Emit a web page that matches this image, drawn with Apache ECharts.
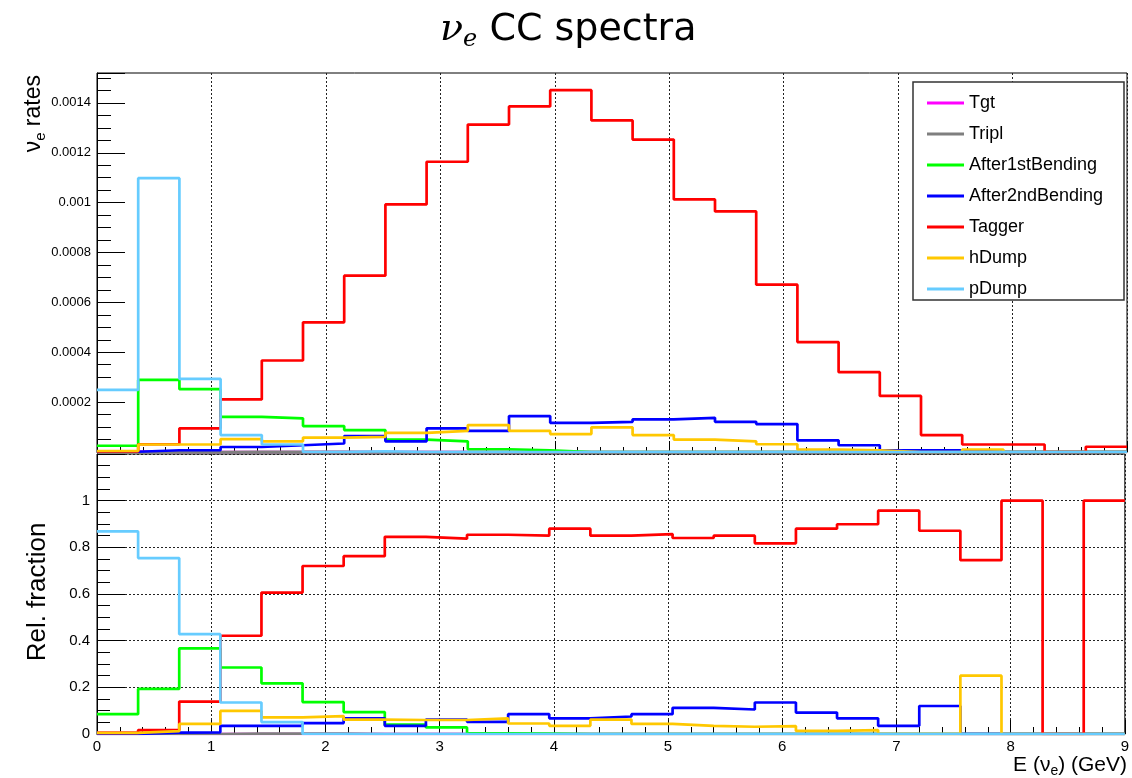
<!DOCTYPE html>
<html>
<head>
<meta charset="utf-8">
<title>nu_e CC spectra</title>
<script src="https://cdn.jsdelivr.net/npm/echarts@6/dist/echarts.min.js"></script>
<style>
  html, body { margin: 0; padding: 0; background: #fff; }
  #chart { width: 1132px; height: 778px; }
</style>
</head>
<body>
<div id="chart"></div>
<script>
// bin edges in GeV (25 bins of 0.36)
const edges = [0, 0.36, 0.72, 1.08, 1.44, 1.8, 2.16, 2.52, 2.88, 3.24, 3.6, 3.96, 4.32,
  4.68, 5.04, 5.4, 5.76, 6.12, 6.48, 6.84, 7.2, 7.56, 7.92, 8.28, 8.64, 9.0]

const names = ['Tgt', 'Tripl', 'After1stBending', 'After2ndBending', 'Tagger', 'hDump', 'pDump']
const colors = ['#ff00ff', '#7f7f7f', '#00ff00', '#0000ff', '#ff0000', '#ffc800', '#66ccff']

// top pad: nu_e rates per bin
const tgtRate = [2e-6, 0, 0, 0, 0, 0, 0, 0, 0, 0, 0, 0, 0, 0, 0, 0, 0, 0, 0, 0, 0, 0, 0, 0, 0]
const triplRate = [0, 0, 0, 1e-6, 1e-6, 1e-6, 0, 0, 0, 0, 0, 0, 0, 0, 0, 0, 0, 0, 0, 0, 0, 0, 0, 0, 0]
const bend1Rate = [2.5e-5, 2.89e-4, 2.52e-4, 1.41e-4, 1.35e-4, 1.04e-4, 8.8e-5, 5.0e-5, 4.3e-5, 1.1e-5,
  7e-6, 0, 0, 0, 0, 0, 0, 0, 0, 0, 0, 0, 0, 0, 0]
const bend2Rate = [1e-6, 7e-6, 7e-6, 2.0e-5, 2.7e-5, 3.4e-5, 6.4e-5, 4.3e-5, 9.5e-5, 8.5e-5,
  1.44e-4, 1.17e-4, 1.21e-4, 1.31e-4, 1.37e-4, 1.21e-4, 1.12e-4, 4.7e-5, 2.7e-5, 7e-6,
  7e-6, 0, 0, 0, 0]
const taggerRate = [2e-6, 3.1e-5, 9.5e-5, 2.11e-4, 3.67e-4, 5.2e-4, 7.07e-4, 9.93e-4, 1.164e-3, 1.313e-3,
  1.386e-3, 1.451e-3, 1.33e-3, 1.253e-3, 1.013e-3, 9.65e-4, 6.71e-4, 4.41e-4, 3.2e-4, 2.25e-4,
  6.8e-5, 3.0e-5, 3.0e-5, 0, 2.1e-5]
const hDumpRate = [4e-6, 3.0e-5, 3.0e-5, 5.2e-5, 4.3e-5, 5.8e-5, 6.1e-5, 7.7e-5, 8.5e-5, 1.08e-4,
  8.5e-5, 7.2e-5, 9.9e-5, 6.8e-5, 5.0e-5, 4.3e-5, 3.1e-5, 1.0e-5, 7e-6, 0,
  0, 1.0e-5, 0, 0, 0]
const pDumpRate = [2.49e-4, 1.098e-3, 2.93e-4, 6.8e-5, 3.0e-5, 0, 3e-6, 0, 0, 0, 0, 0, 0, 0, 0, 0,
  0, 0, 0, 0, 0, 0, 0, 0, 0]

// bottom pad: relative fraction per bin
const tgtFrac = [0.005, 0, 0, 0, 0, 0, 0, 0, 0, 0, 0, 0, 0, 0, 0, 0, 0, 0, 0, 0, 0, 0, 0, 0, 0]
const triplFrac = [0, 0, 0, 0.002, 0.002, 0.002, 0, 0, 0, 0, 0, 0, 0, 0, 0, 0, 0, 0, 0, 0, 0, 0, 0, 0, 0]
const bend1Frac = [0.085, 0.193, 0.367, 0.285, 0.217, 0.137, 0.094, 0.04, 0.028, 0.003,
  0.002, 0, 0, 0, 0, 0, 0, 0, 0, 0, 0, 0, 0, 0, 0]
const bend2Frac = [0, 0.006, 0.007, 0.035, 0.035, 0.047, 0.067, 0.035, 0.062, 0.052,
  0.085, 0.067, 0.075, 0.085, 0.112, 0.105, 0.135, 0.092, 0.067, 0.035,
  0.12, 0, 0, 0, 0]
const taggerFrac = [0.005, 0.017, 0.139, 0.421, 0.606, 0.72, 0.762, 0.845, 0.837, 0.854,
  0.85, 0.88, 0.85, 0.857, 0.84, 0.85, 0.817, 0.88, 0.899, 0.957,
  0.871, 0.745, 1.0, 0, 1.0]
const hDumpFrac = [0.005, 0.012, 0.043, 0.099, 0.071, 0.077, 0.062, 0.06, 0.06, 0.067,
  0.045, 0.035, 0.062, 0.043, 0.035, 0.031, 0.034, 0.013, 0.017, 0,
  0, 0.25, 0, 0, 0]
const pDumpFrac = [0.868, 0.754, 0.428, 0.135, 0.051, 0, 0, 0, 0, 0, 0, 0, 0, 0, 0, 0,
  0, 0, 0, 0, 0, 0, 0, 0, 0]

const rates = [tgtRate, triplRate, bend1Rate, bend2Rate, taggerRate, hDumpRate, pDumpRate]
const fracs = [tgtFrac, triplFrac, bend1Frac, bend2Frac, taggerFrac, hDumpFrac, pDumpFrac]

const FONT = 'Liberation Sans'

// histogram outline: each bin gives a flat segment, joined by verticals
function steps (vals) {
  const pts = []
  vals.forEach((v, i) => {
    pts.push([edges[i], v])
    pts.push([edges[i + 1], v])
  })
  return pts
}

const series = []
names.forEach((n, k) => {
  [rates[k], fracs[k]].forEach((vals, pad) => {
    series.push({
      name: n,
      type: 'line',
      xAxisIndex: pad,
      yAxisIndex: pad,
      data: steps(vals),
      symbol: 'none',
      color: colors[k],
      lineStyle: { width: 2.7, color: colors[k] },
      z: 2 + k
    })
  })
})

const dotted = { show: true, lineStyle: { color: '#222', type: [2, 2], width: 1 } }

const chart = echarts.init(document.getElementById('chart'))
chart.setOption({
  animation: false,
  backgroundColor: '#fff',
  grid: [
    { left: 97, top: 73, width: 1030, height: 379, show: true, borderColor: '#000', borderWidth: 1 },
    { left: 97, top: 454, width: 1030, height: 280, show: true, borderColor: '#000', borderWidth: 1 }
  ],
  xAxis: [
    {
      gridIndex: 0, type: 'value', min: 0, max: 9, interval: 1,
      axisLine: { lineStyle: { color: '#000' } },
      axisTick: { inside: true, length: 11, lineStyle: { color: '#000' } },
      minorTick: { show: true, splitNumber: 5, length: 5, lineStyle: { color: '#000' } },
      axisLabel: { show: false },
      splitLine: dotted
    },
    {
      gridIndex: 1, type: 'value', min: 0, max: 9, interval: 1,
      axisLine: { lineStyle: { color: '#000' } },
      axisTick: { inside: true, length: 14, lineStyle: { color: '#000' } },
      minorTick: { show: true, splitNumber: 5, length: 7, lineStyle: { color: '#000' } },
      axisLabel: { fontFamily: FONT, fontSize: 15, color: '#000', margin: 5 },
      splitLine: dotted
    }
  ],
  yAxis: [
    {
      gridIndex: 0, type: 'value', min: 0, max: 0.00152, interval: 0.0002,
      axisLine: { show: true, lineStyle: { color: '#000' } },
      axisTick: { inside: true, length: 28, lineStyle: { color: '#000' } },
      minorTick: { show: true, splitNumber: 4, length: 14, lineStyle: { color: '#000' } },
      axisLabel: {
        fontFamily: FONT, fontSize: 13, color: '#000', margin: 6,
        showMinLabel: false, showMaxLabel: false,
        formatter: v => String(+v.toFixed(4))
      },
      splitLine: { show: false }
    },
    {
      gridIndex: 1, type: 'value', min: 0, max: 1.2, interval: 0.2,
      axisLine: { show: true, lineStyle: { color: '#000' } },
      axisTick: { inside: true, length: 28, lineStyle: { color: '#000' } },
      minorTick: { show: true, splitNumber: 4, length: 13, lineStyle: { color: '#000' } },
      axisLabel: {
        fontFamily: FONT, fontSize: 15, color: '#000', margin: 7,
        showMaxLabel: false,
        formatter: v => String(+v.toFixed(1))
      },
      splitLine: dotted
    }
  ],
  legend: {
    data: names,
    orient: 'vertical',
    left: 922,
    top: 88,
    icon: 'rect',
    itemWidth: 37,
    itemHeight: 3,
    itemGap: 11,
    z: 20,
    textStyle: { fontFamily: FONT, fontSize: 18, color: '#000', lineHeight: 20 }
  },
  graphic: [
    // legend frame
    {
      type: 'rect', z: 15,
      shape: { x: 913, y: 82, width: 211, height: 218 },
      style: { fill: '#fff', stroke: '#333', lineWidth: 1.5 }
    },
    // main title
    {
      type: 'text', x: 440, y: 30, z: 20,
      style: {
        text: '{nu|ν}{sub|e}{t| CC spectra}',
        verticalAlign: 'middle',
        rich: {
          nu: { fontFamily: 'DejaVu Serif', fontStyle: 'italic', fontSize: 38, lineHeight: 44, fill: '#000' },
          sub: { fontFamily: 'DejaVu Serif', fontStyle: 'italic', fontSize: 24, lineHeight: 20, verticalAlign: 'bottom', fill: '#000' },
          t: { fontFamily: 'DejaVu Sans', fontSize: 38, lineHeight: 44, fill: '#000' }
        }
      }
    },
    // top y title
    {
      type: 'text', x: 34, y: 75, rotation: Math.PI / 2, z: 20,
      style: {
        text: '{a|ν}{b|e}{a| rates}',
        align: 'right',
        verticalAlign: 'middle',
        rich: {
          a: { fontFamily: FONT, fontSize: 23, lineHeight: 28, fill: '#000' },
          b: { fontFamily: FONT, fontSize: 15, lineHeight: 14, verticalAlign: 'bottom', fill: '#000' }
        }
      }
    },
    // bottom y title
    {
      type: 'text', x: 38, y: 592, rotation: Math.PI / 2, z: 20,
      style: {
        text: 'Rel. fraction',
        align: 'center',
        verticalAlign: 'middle',
        fontFamily: FONT, fontSize: 26, fill: '#000'
      }
    },
    // x title
    {
      type: 'text', x: 1127, y: 765, z: 20,
      style: {
        text: '{a|E (ν}{b|e}{a|) (GeV)}',
        align: 'right',
        verticalAlign: 'middle',
        rich: {
          a: { fontFamily: FONT, fontSize: 21, lineHeight: 26, fill: '#000' },
          b: { fontFamily: FONT, fontSize: 14, lineHeight: 12, verticalAlign: 'bottom', fill: '#000' }
        }
      }
    }
  ],
  series: series
})
</script>
</body>
</html>
